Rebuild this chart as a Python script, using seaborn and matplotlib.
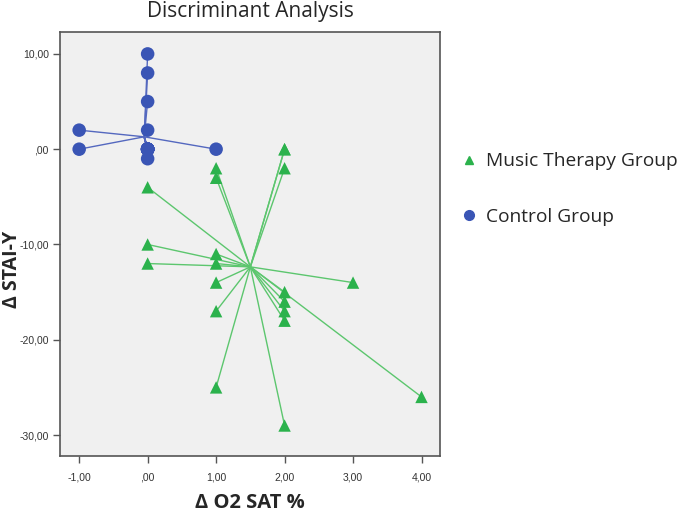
import numpy as np
import pandas as pd
import matplotlib
matplotlib.use("Agg")
import matplotlib.pyplot as plt
import seaborn as sns
from matplotlib.lines import Line2D
from matplotlib.ticker import FuncFormatter

# data (Δ O2 SAT %, Δ STAI-Y)
music_x = [2, 2, 2, 1, 1, 0, 0, 0, 1, 1, 1, 1, 1, 2, 2, 2, 2, 2, 3, 4]
music_y = [0, 0, -2, -2, -3, -4, -10, -12, -11, -12, -14, -17, -25, -29, -15, -16, -17, -18, -14, -26]

control_x = [0, 0, 0, 0, 0, 0, -1, -1, 1] + [0] * 11
control_y = [10, 8, 5, 2, 0, -1, 2, 0, 0] + [0] * 11

groups = ["Music Therapy Group", "Control Group"]
colors = {"Music Therapy Group": "#2bb24c", "Control Group": "#3a55b5"}
line_colors = {"Music Therapy Group": "#5cc66e", "Control Group": "#5468bf"}
markers = {"Music Therapy Group": "^", "Control Group": "o"}

df = pd.concat([
    pd.DataFrame({"o2": music_x, "stai": music_y, "group": groups[0]}),
    pd.DataFrame({"o2": control_x, "stai": control_y, "group": groups[1]}),
])

sns.set_style("white")
plt.rcParams["font.family"] = ["Liberation Sans", "DejaVu Sans"]
label_font = ["Open Sans", "DejaVu Sans"]

fig = plt.figure(figsize=(6.85, 5.15), dpi=100)
ax = fig.add_axes([60 / 685, 1 - 456 / 515, 380 / 685, 424 / 515])
ax.set_facecolor("#f0f0f0")

# lines from each group centroid to its members
for g in groups:
    sub = df[df["group"] == g]
    cx, cy = sub["o2"].mean(), sub["stai"].mean()
    for _, r in sub.iterrows():
        ax.plot([cx, r["o2"]], [cy, r["stai"]], color=line_colors[g], lw=1.0, zorder=2)

for g in groups:
    sns.scatterplot(data=df[df["group"] == g], x="o2", y="stai", marker=markers[g],
                    color=colors[g], s=95 if g == groups[1] else 80,
                    edgecolor="none", ax=ax, zorder=3, legend=False)

ax.set_xlim(-1.28, 4.27)
ax.set_ylim(-32.2, 12.3)
ax.set_xticks([-1, 0, 1, 2, 3, 4])
ax.set_yticks([10, 0, -10, -20, -30])


def spss_fmt(v, pos):
    s = f"{v:.2f}".replace(".", ",")
    if s.startswith("0,"):
        s = s[1:]
    return s


ax.xaxis.set_major_formatter(FuncFormatter(spss_fmt))
ax.yaxis.set_major_formatter(FuncFormatter(spss_fmt))
ax.tick_params(axis="both", direction="out", length=5, width=1, color="#555555",
               labelsize=7.5, labelcolor="#333333", pad=3)
ax.tick_params(axis="x", pad=7)
ax.xaxis.set_ticks_position("bottom")
ax.yaxis.set_ticks_position("left")
for sp in ax.spines.values():
    sp.set_color("#555555")
    sp.set_linewidth(1.2)

ax.set_xlabel("Δ O2 SAT %", fontsize=14.5, fontweight="bold", family=label_font)
ax.xaxis.set_label_coords(0.5, -0.087)
ax.set_ylabel("Δ STAI-Y", fontsize=14, fontweight="bold", family=label_font)
ax.yaxis.set_label_coords(-0.101, 0.441)
ax.set_title("Discriminant Analysis", fontsize=15, pad=11, family=label_font)

handles = [Line2D([], [], ls="", marker=markers[g], color=colors[g],
                  markersize=7 if g == groups[1] else 6) for g in groups]
fig.legend(handles, groups, loc="center left", bbox_to_anchor=(457 / 685, 1 - 189 / 515),
           frameon=False, handletextpad=0.3, handlelength=1.2, labelspacing=1.95,
           borderaxespad=0, borderpad=0,
           prop={"family": label_font, "size": 13.8})

fig.savefig("out.png", dpi=100)
